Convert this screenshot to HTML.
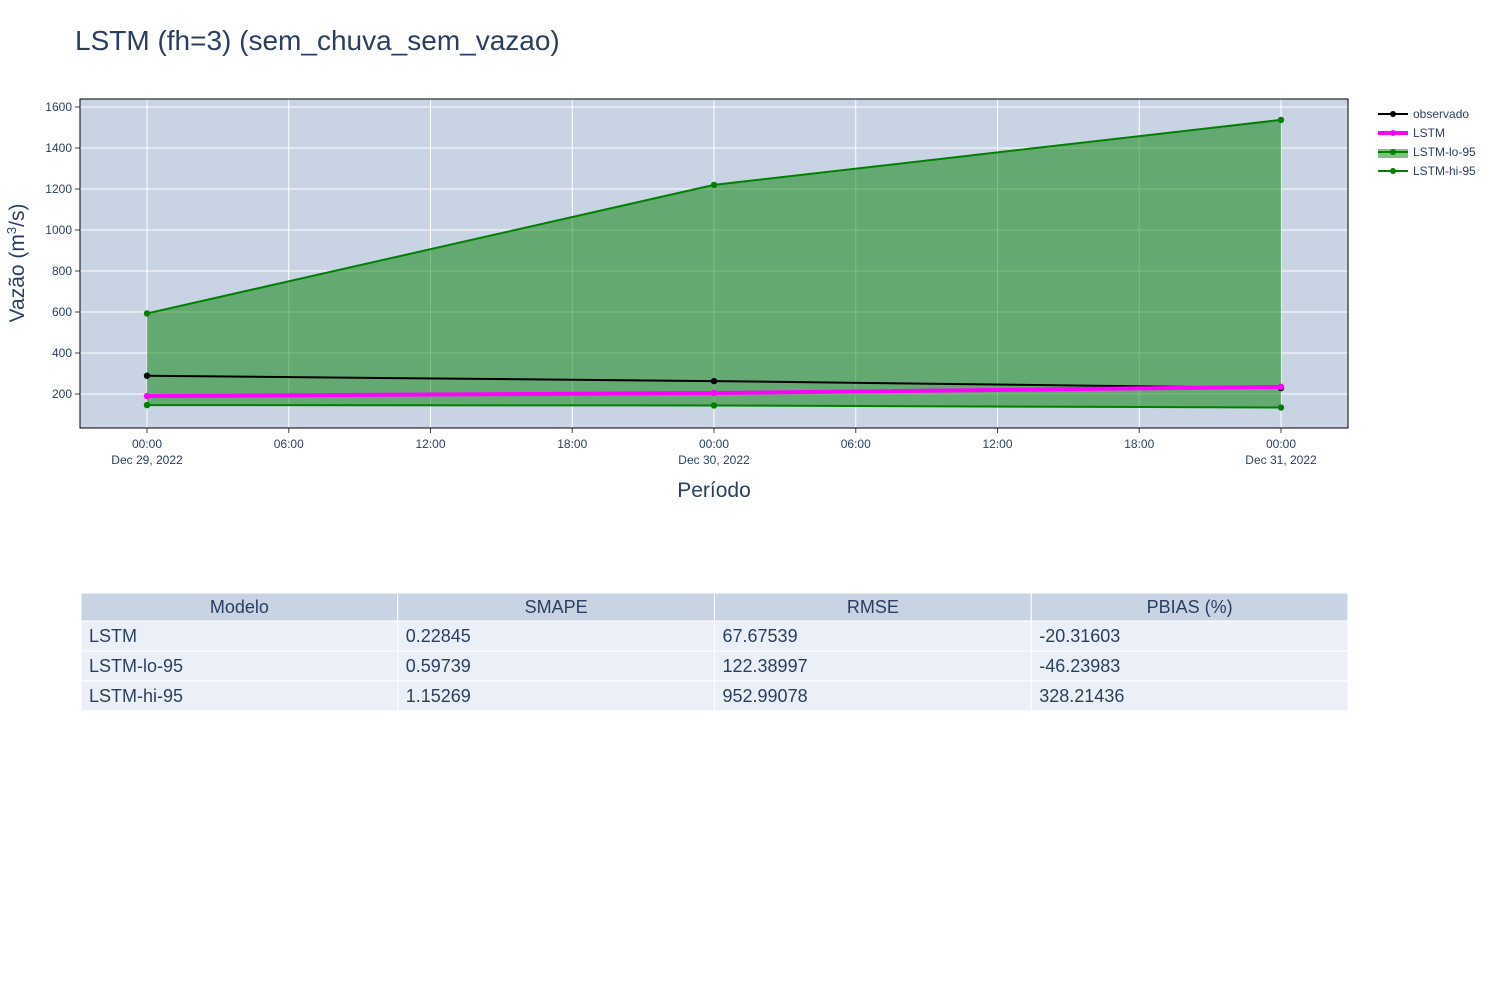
<!DOCTYPE html>
<html><head><meta charset="utf-8"><style>
body{margin:0;background:#fff;width:1500px;height:1000px;overflow:hidden;font-family:"Liberation Sans","DejaVu Sans",sans-serif;}
svg text{font-family:"Liberation Sans","DejaVu Sans",sans-serif;fill:#2a3f5f;}
</style></head><body>
<svg id="chart" width="1500" height="1000" xmlns="http://www.w3.org/2000/svg">
<text x="75" y="50" font-size="28">LSTM (fh=3) (sem_chuva_sem_vazao)</text>
<g id="plot"></g>
<text x="714" y="497" font-size="21" text-anchor="middle">Período</text>
<text transform="translate(24,263) rotate(-90)" font-size="21" text-anchor="middle">Vazão (m<tspan dy="-8" font-size="13">3</tspan><tspan dy="8">/s)</tspan></text>
<g id="legend"></g>
<g id="table"></g>
</svg>
<script>
const NS='http://www.w3.org/2000/svg';
const hours=[0,24,48];
const observado=[289,263,229];
const lstm=[190,205,235];
const lo95=[146,144,134];
const hi95=[593,1220,1537];
const yTicks=[200,400,600,800,1000,1200,1400,1600];
const xTickHours=[0,6,12,18,24,30,36,42,48];
const xTickLabels=['00:00','06:00','12:00','18:00','00:00','06:00','12:00','18:00','00:00'];
const xTickDates=['Dec 29, 2022','','','','Dec 30, 2022','','','','Dec 31, 2022'];
const tableHeader=['Modelo','SMAPE','RMSE','PBIAS (%)'];
const tableRows=[['LSTM','0.22845','67.67539','-20.31603'],['LSTM-lo-95','0.59739','122.38997','-46.23983'],['LSTM-hi-95','1.15269','952.99078','328.21436']];
const L=80,R=1348,T=99,B=428;
const xs=h=>147+h*(1134/48);
const ys=v=>394-(v-200)*0.205;
function el(t,a,p){const e=document.createElementNS(NS,t);for(const k in a)e.setAttribute(k,a[k]);(p||document.getElementById('plot')).appendChild(e);return e;}
const plot=document.getElementById('plot');
let bg=el('rect',{x:L,y:T,width:R-L,height:B-T,fill:'#c8d3e3'});


xTickHours.forEach((h,i)=>{
 const g=el('line',{x1:xs(h),x2:xs(h),y1:T,y2:B+5,stroke:'#fff','stroke-width':1});
 
 
 const t=el('text',{x:xs(h),y:448,'font-size':12,'text-anchor':'middle'});t.textContent=xTickLabels[i];
 
 
 if(xTickDates[i]){const d=el('text',{x:xs(h),y:464,'font-size':12,'text-anchor':'middle'});d.textContent=xTickDates[i];
 
 }
 el('line',{x1:xs(h),x2:xs(h),y1:B,y2:B+5,stroke:'#444'});
});
yTicks.forEach(v=>{
 const g=el('line',{x1:L,x2:R,y1:ys(v),y2:ys(v),stroke:'#fff','stroke-width':1});
 
 
 el('line',{x1:L-5,x2:L,y1:ys(v),y2:ys(v),stroke:'#444'});
 const t=el('text',{x:L-8,y:ys(v)+4,'font-size':12,'text-anchor':'end'});t.textContent=v;
 
 
});
// band
let pts=hours.map((h,i)=>xs(h)+','+ys(hi95[i]));
for(let i=hours.length-1;i>=0;i--)pts.push(xs(hours[i])+','+ys(lo95[i]));
const band=el('polygon',{points:pts.join(' '),fill:'rgba(0,128,0,0.5)'});


function series(vals,color,w,name){
 const p=el('polyline',{points:hours.map((h,i)=>xs(h)+','+ys(vals[i])).join(' '),fill:'none',stroke:color,'stroke-width':w});
 
 
 hours.forEach((h,i)=>{const c=el('circle',{cx:xs(h),cy:ys(vals[i]),r:3.2,fill:color});
 
 });
}
series(lo95,'#008000',2,'lstm-lo-95');
series(hi95,'#008000',2,'lstm-hi-95');
series(observado,'#000',2,'observado');
series(lstm,'#ff00ff',4,'lstm');
el('rect',{x:L,y:T,width:R-L,height:B-T,fill:'none',stroke:'#000','stroke-width':1});
// legend
const leg=document.getElementById('legend');
const items=[['observado','#000',2,false],['LSTM','#ff00ff',4,false],['LSTM-lo-95','#008000',2,true],['LSTM-hi-95','#008000',2,false]];
items.forEach((it,i)=>{
 const y=114+i*19;
 const g=el('g',{},leg);
 
 
 if(it[3])el('rect',{x:1378,y:y-3,width:30,height:9,fill:'rgba(0,128,0,0.5)'},g);
 el('line',{x1:1378,x2:1408,y1:y,y2:y,stroke:it[1],'stroke-width':it[2]},g);
 el('circle',{cx:1393,cy:y,r:3,fill:it[1]},g);
 const t=el('text',{x:1413,y:y+4,'font-size':12},g);t.textContent=it[0];
});
// table
const tb=document.getElementById('table');
const cw=(1348-81)/4;
function row(cells,y,h,fill,center,name){
 cells.forEach((c,j)=>{
  const r=el('rect',{x:81+j*cw,y:y,width:cw,height:h,fill:fill,stroke:'#fff','stroke-width':1},tb);
  
  
  const t=el('text',{x:center?81+j*cw+cw/2:81+j*cw+8,y:y+h/2+6,'font-size':18,'text-anchor':center?'middle':'start'},tb);
  t.textContent=c;
  
  
 });
}
row(tableHeader,593,28,'#c8d3e3',true,'table-header');
tableRows.forEach((r,i)=>row(r,621+i*30,30,'#ebf0f8',false,'table-row'));
</script>
</body></html>
